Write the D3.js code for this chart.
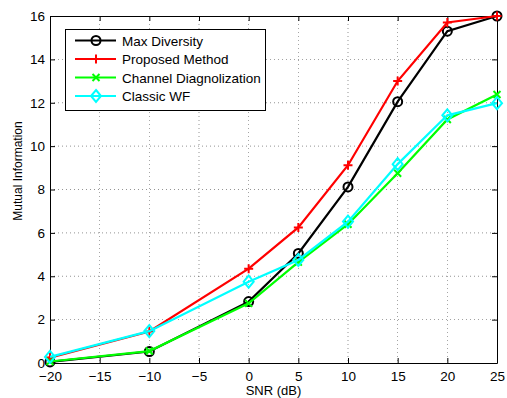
<!DOCTYPE html>
<html><head><meta charset="utf-8">
<script src="https://cdn.jsdelivr.net/npm/d3@7"></script>
<style>body{margin:0;background:#fff;} text{font-family:"Liberation Sans",Arial,sans-serif;}</style>
</head><body>
<script>
const snr = [-20, -10, 0, 5, 10, 15, 20, 25];
const maxDiversity = [0.05, 0.53, 2.83, 5.05, 8.12, 12.05, 15.3, 16.0];
const proposed = [0.25, 1.45, 4.35, 6.25, 9.12, 13.0, 15.7, 16.0];
const channelDiag = [0.07, 0.55, 2.75, 4.65, 6.4, 8.75, 11.23, 12.38];
const classicWF = [0.28, 1.47, 3.75, 4.75, 6.52, 9.17, 11.42, 11.98];
const xTicks = [-20, -15, -10, -5, 0, 5, 10, 15, 20, 25];
const yTicks = [0, 2, 4, 6, 8, 10, 12, 14, 16];
const seriesNames = ["Max Diversity", "Proposed Method", "Channel Diagnolization", "Classic WF"];
const seriesColors = ["#000000", "#ff0000", "#00ff00", "#00ffff"];
const seriesMarkers = ["circle", "plus", "cross", "diamond"];
const seriesData = [maxDiversity, proposed, channelDiag, classicWF];

const W = 507, H = 398;
const L = 50, R = 497, T = 16, B = 363;
const svg = d3.select("body").append("svg").attr("width", W).attr("height", H);
const x = d3.scaleLinear().domain([-20, 25]).range([L, R]);
const y = d3.scaleLinear().domain([0, 16]).range([B, T]);

// grid
const g = svg.append("g");
g.selectAll(".vg").data(xTicks.slice(1, -1)).enter().append("line")
  .attr("x1", d => x(d)).attr("x2", d => x(d)).attr("y1", T).attr("y2", B)
  .attr("stroke", "#000").attr("stroke-width", 0.6).attr("stroke-dasharray", "1,3").attr("opacity", 0.7);
g.selectAll(".hg").data(yTicks.slice(1, -1)).enter().append("line")
  .attr("y1", d => y(d)).attr("y2", d => y(d)).attr("x1", L).attr("x2", R)
  .attr("stroke", "#000").attr("stroke-width", 0.6).attr("stroke-dasharray", "1,3").attr("opacity", 0.7);

// axes
const xAxisB = d3.axisBottom(x).tickValues(xTicks).tickSizeInner(-5).tickSizeOuter(0).tickPadding(8)
  .tickFormat(d => d < 0 ? "\u2212" + Math.abs(d) : d);
const xAxisT = d3.axisTop(x).tickValues(xTicks).tickSizeInner(-5).tickSizeOuter(0).tickFormat("");
const yAxisL = d3.axisLeft(y).tickValues(yTicks).tickSizeInner(-5).tickSizeOuter(0).tickPadding(5);
const yAxisR = d3.axisRight(y).tickValues(yTicks).tickSizeInner(-5).tickSizeOuter(0).tickFormat("");
function styleAxis(sel) {
  sel.select(".domain").attr("stroke", "#000").attr("stroke-width", 1);
  sel.selectAll(".tick line").attr("stroke", "#000");
  sel.selectAll("text").attr("font-size", 13.5).attr("fill", "#000").attr("font-family", "Liberation Sans, Arial, sans-serif");
}
svg.append("g").attr("transform", `translate(0,${B})`).call(xAxisB).call(styleAxis);
svg.append("g").attr("transform", `translate(0,${T})`).call(xAxisT).call(styleAxis);
svg.append("g").attr("transform", `translate(${L},0)`).call(yAxisL).call(styleAxis);
svg.append("g").attr("transform", `translate(${R},0)`).call(yAxisR).call(styleAxis);

// labels
svg.append("text").attr("x", 273.5).attr("y", 395).attr("text-anchor", "middle")
  .attr("font-size", 13).text("SNR (dB)");
svg.append("text").attr("transform", `translate(21.5,171) rotate(-90)`).attr("text-anchor", "middle")
  .attr("font-size", 12).text("Mutual Information");

function drawMarker(sel, type, color, cx, cy) {
  if (type === "circle") {
    sel.append("circle").attr("cx", cx).attr("cy", cy).attr("r", 4.5).attr("fill", "none")
      .attr("stroke", color).attr("stroke-width", 2);
  } else if (type === "plus") {
    sel.append("path").attr("d", `M${cx - 4.5},${cy}H${cx + 4.5}M${cx},${cy - 4.5}V${cy + 4.5}`)
      .attr("stroke", color).attr("stroke-width", 2);
  } else if (type === "cross") {
    sel.append("path").attr("d", `M${cx - 3.5},${cy - 3.5}L${cx + 3.5},${cy + 3.5}M${cx - 3.5},${cy + 3.5}L${cx + 3.5},${cy - 3.5}`)
      .attr("stroke", color).attr("stroke-width", 2);
  } else if (type === "diamond") {
    sel.append("path").attr("d", `M${cx},${cy - 6}L${cx + 5},${cy}L${cx},${cy + 6}L${cx - 5},${cy}Z`)
      .attr("fill", "none").attr("stroke", color).attr("stroke-width", 2);
  }
}

const line = d3.line().x(d => x(d[0])).y(d => y(d[1]));
seriesData.forEach((vals, i) => {
  const pts = snr.map((s, j) => [s, vals[j]]);
  const sg = svg.append("g");
  sg.append("path").datum(pts).attr("d", line).attr("fill", "none")
    .attr("stroke", seriesColors[i]).attr("stroke-width", 2.2).attr("stroke-linejoin", "miter");
  pts.forEach(p => drawMarker(sg, seriesMarkers[i], seriesColors[i], x(p[0]), y(p[1])));
});

// legend
const lg = svg.append("g");
lg.append("rect").attr("x", 65.5).attr("y", 29.5).attr("width", 200).attr("height", 81)
  .attr("fill", "#fff").attr("stroke", "#000").attr("stroke-width", 1);
const legY = [40.5, 59, 77.5, 96];
seriesNames.forEach((name, i) => {
  lg.append("line").attr("x1", 75).attr("x2", 116).attr("y1", legY[i]).attr("y2", legY[i])
    .attr("stroke", seriesColors[i]).attr("stroke-width", 2.2);
  drawMarker(lg, seriesMarkers[i], seriesColors[i], 96, legY[i]);
  lg.append("text").attr("x", 122).attr("y", legY[i] + 5).attr("font-size", 13.5).text(name);
});
</script>
</body></html>
